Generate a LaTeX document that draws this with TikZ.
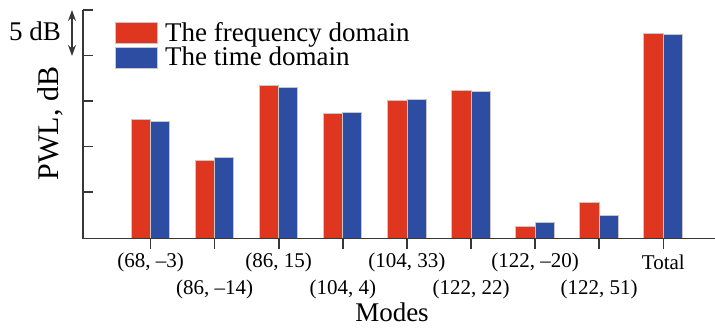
\documentclass[tikz,border=0pt]{standalone}
\usepackage{fontspec}
\setmainfont{Liberation Serif}
\usepackage{xcolor}
\usetikzlibrary{arrows.meta}
\definecolor{freqred}{RGB}{223,54,32}
\definecolor{timeblue}{RGB}{45,77,163}
\definecolor{axisgray}{RGB}{55,55,55}
\tikzset{fbar/.style={fill=freqred,draw=black!22,line width=0.7pt},
  tbar/.style={fill=timeblue,draw=black!22,line width=0.7pt},
  axis/.style={draw=axisgray,line width=1.6pt},
  tlab/.style={font=\fontsize{21}{24}\selectfont,inner sep=0pt},
  big/.style={font=\fontsize{27}{30}\selectfont,inner sep=0pt}}

\begin{document}
\begin{tikzpicture}[x=1pt,y=-1pt,>={Stealth[length=11pt,width=8pt]}]
    \useasboundingbox (0,0) rectangle (715,327);

    % axes
    \coordinate (o) at (83,238.5);
    \coordinate (ytop) at (83,10);
    \coordinate (xend) at (715,238.5);
    \draw[axis] (ytop) -- (o) -- (xend);
    \draw[axis] (ytop) -- +(10,0);
    \draw[axis] (83,55.5) -- +(10,0);
    \draw[axis] (83,101) -- +(10,0);
    \draw[axis] (83,146.5) -- +(10,0);
    \draw[axis] (83,192) -- +(10,0);

    % scale bar
    \coordinate (sa) at (72,10);
    \coordinate (sb) at (72,56);
    \draw[<->,draw=axisgray,line width=1.3pt] (sa) -- (sb);
    \node[big,anchor=base east] (scale) at (61,40) {5 dB};

    % bars
    \draw[fbar] (131,238.5) rectangle (150.5,119);
    \draw[tbar] (150.5,238.5) rectangle (169.5,121.7);
    \draw[fbar] (195.1,238.5) rectangle (214.6,160);
    \draw[tbar] (214.6,238.5) rectangle (233.6,157.3);
    \draw[fbar] (259.2,238.5) rectangle (278.7,85);
    \draw[tbar] (278.7,238.5) rectangle (297.7,87.7);
    \draw[fbar] (323.3,238.5) rectangle (342.8,113);
    \draw[tbar] (342.8,238.5) rectangle (361.8,112);
    \draw[fbar] (387.4,238.5) rectangle (406.9,100.7);
    \draw[tbar] (406.9,238.5) rectangle (425.9,99);
    \draw[fbar] (451.5,238.5) rectangle (471,90);
    \draw[tbar] (471,238.5) rectangle (490,91.3);
    \draw[fbar] (515.6,238.5) rectangle (535.1,226);
    \draw[tbar] (535.1,238.5) rectangle (554.1,222);
    \draw[fbar] (579.7,238.5) rectangle (599.2,202.7);
    \draw[tbar] (599.2,238.5) rectangle (618.2,215.3);
    \draw[fbar] (643.8,238.5) rectangle (663.3,33.3);
    \draw[tbar] (663.3,238.5) rectangle (682.3,34.3);
    \draw[axis] (o) -- (xend);

    % mode ticks and labels
    \draw[axis] (150.5,238.5) -- +(0,10);
    \draw[axis] (214.6,238.5) -- +(0,10);
    \draw[axis] (278.7,238.5) -- +(0,10);
    \draw[axis] (342.8,238.5) -- +(0,10);
    \draw[axis] (406.9,238.5) -- +(0,10);
    \draw[axis] (471,238.5) -- +(0,10);
    \draw[axis] (535.1,238.5) -- +(0,10);
    \draw[axis] (599.2,238.5) -- +(0,10);
    \draw[axis] (663.3,238.5) -- +(0,10);
    \node[tlab] (md1) at (150.5,262.5) {(68, --3)};
    \node[tlab] (md2) at (214.6,289) {(86, --14)};
    \node[tlab] (md3) at (278.7,262.5) {(86, 15)};
    \node[tlab] (md4) at (342.8,289) {(104, 4)};
    \node[tlab] (md5) at (406.9,262.5) {(104, 33)};
    \node[tlab] (md6) at (471,289) {(122, 22)};
    \node[tlab] (md7) at (535.1,262.5) {(122, --20)};
    \node[tlab] (md8) at (599.2,289) {(122, 51)};
    \node[tlab] (md9) at (663.3,262.5) {Total};

    % axis titles
    \node[big,anchor=base] (xlab) at (392,321) {Modes};
    \node[big,font=\fontsize{30}{32}\selectfont,rotate=90,anchor=base] (ylab) at (58,123.5) {PWL, dB};

    % legend
    \node[fbar,minimum width=42pt,minimum height=21pt,inner sep=0pt] (keyf) at (136,32.5) {};
    \node[tbar,minimum width=42pt,minimum height=21pt,inner sep=0pt] (keyt) at (136,58) {};
    \node[big,anchor=base west] (keyftxt) at (165,41) {The frequency domain};
    \node[big,anchor=base west] (keyttxt) at (165,65) {The time domain};
\end{tikzpicture}
\end{document}
